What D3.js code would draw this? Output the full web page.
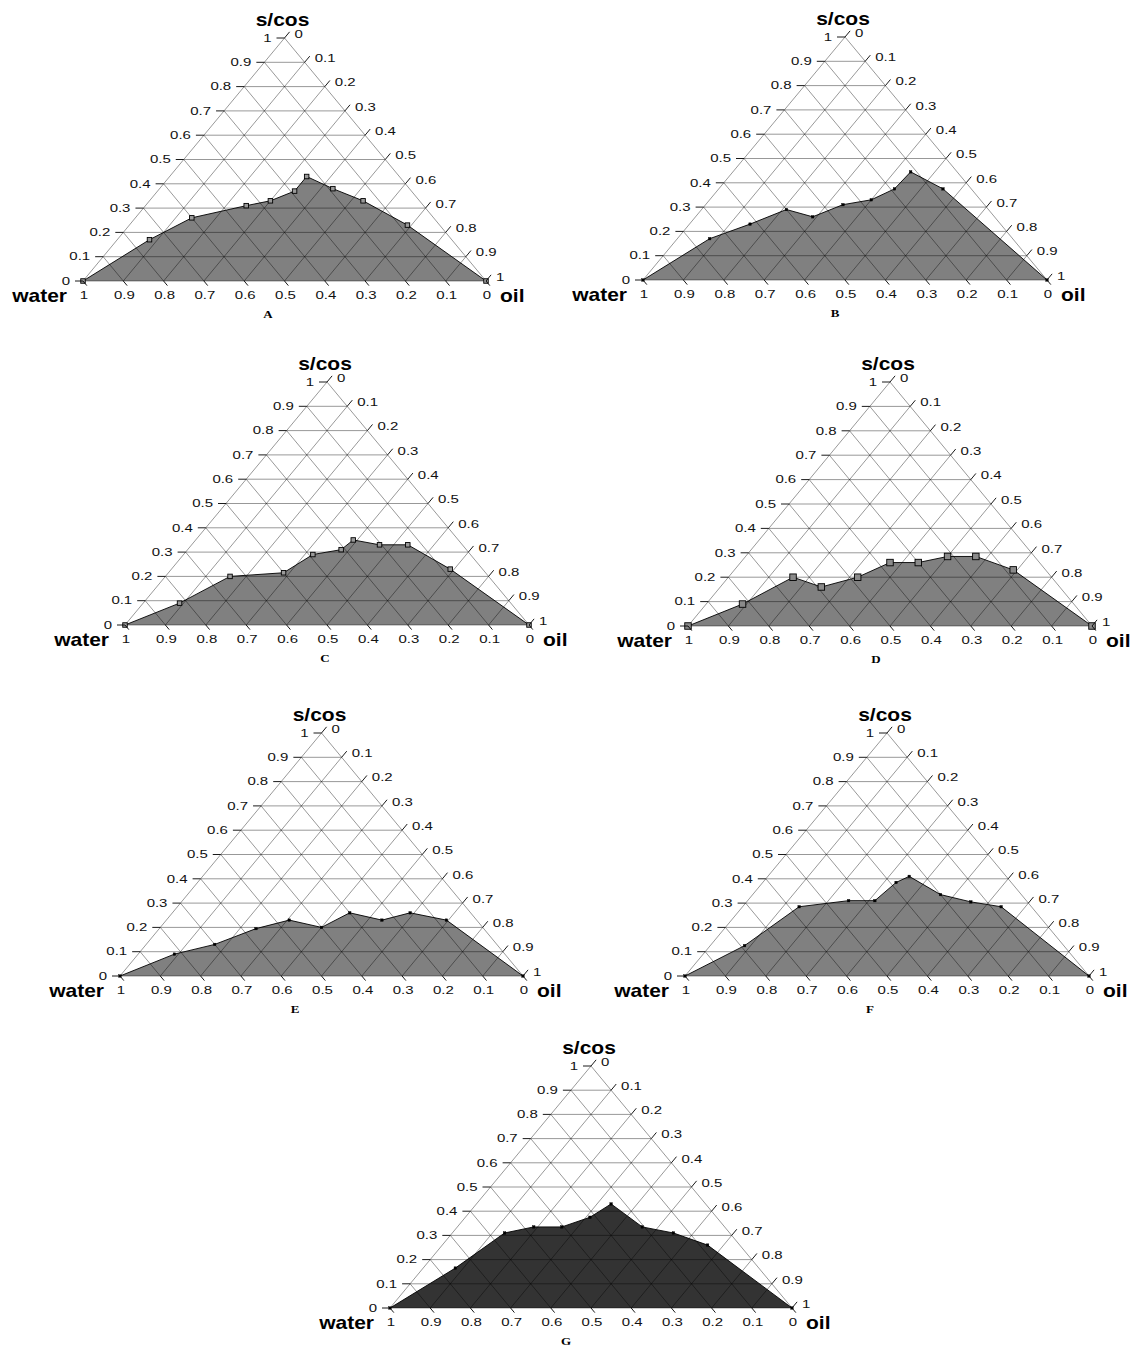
<!DOCTYPE html>
<html><head><meta charset="utf-8">
<script src="https://cdn.jsdelivr.net/npm/d3@7"></script>
<style>html,body{margin:0;padding:0;background:#fff}</style>
</head><body>
<svg id="chart" width="1132" height="1348"></svg>
<script>
// ---------- data: each point is [water, oil, s/cos] ----------
const tickValues = [0, 0.1, 0.2, 0.3, 0.4, 0.5, 0.6, 0.7, 0.8, 0.9, 1];
const tickLabels = ["0", "0.1", "0.2", "0.3", "0.4", "0.5", "0.6", "0.7", "0.8", "0.9", "1"];
const axisNames = { water: "water", oil: "oil", scos: "s/cos" };
const panelNames = ["A", "B", "C", "D", "E", "F", "G"];

const dataA = [[1,0,0],[0.75,0.08,0.17],[0.60,0.14,0.26],[0.44,0.25,0.31],[0.37,0.30,0.33],[0.29,0.34,0.37],[0.23,0.34,0.43],[0.19,0.43,0.38],[0.14,0.53,0.33],[0.08,0.69,0.23],[0,1,0]];
const dataB = [[1,0,0],[0.75,0.08,0.17],[0.62,0.15,0.23],[0.50,0.21,0.29],[0.45,0.29,0.26],[0.35,0.34,0.31],[0.27,0.40,0.33],[0.19,0.435,0.375],[0.115,0.44,0.445],[0.07,0.555,0.375],[0,1,0]];
const dataC = [[1,0,0],[0.82,0.09,0.09],[0.64,0.16,0.20],[0.50,0.285,0.215],[0.39,0.32,0.29],[0.31,0.38,0.31],[0.26,0.39,0.35],[0.205,0.465,0.33],[0.135,0.535,0.33],[0.08,0.69,0.23],[0,1,0]];
const dataD = [[1,0,0],[0.82,0.09,0.09],[0.64,0.16,0.20],[0.59,0.25,0.16],[0.48,0.32,0.20],[0.37,0.37,0.26],[0.30,0.44,0.26],[0.215,0.50,0.285],[0.145,0.57,0.285],[0.08,0.69,0.23],[0,1,0]];
const dataE = [[1,0,0],[0.82,0.09,0.09],[0.70,0.17,0.13],[0.565,0.24,0.195],[0.465,0.305,0.23],[0.40,0.40,0.20],[0.30,0.44,0.26],[0.235,0.535,0.23],[0.15,0.59,0.26],[0.075,0.695,0.23],[0,1,0]];
const dataF = [[1,0,0],[0.79,0.085,0.125],[0.575,0.14,0.285],[0.44,0.25,0.31],[0.375,0.315,0.31],[0.285,0.33,0.385],[0.24,0.35,0.41],[0.20,0.465,0.335],[0.14,0.555,0.305],[0.075,0.64,0.285],[0,1,0]];
const dataG = [[1,0,0],[0.755,0.08,0.165],[0.56,0.13,0.31],[0.475,0.19,0.335],[0.405,0.26,0.335],[0.315,0.31,0.375],[0.235,0.335,0.43],[0.205,0.46,0.335],[0.14,0.55,0.31],[0.08,0.66,0.26],[0,1,0]];

// ---------- layout (positions / styles) ----------
const layout = [
  { name: "A", data: dataA, left: 83,  right: 486,  bottom: 281,  top: 38,   letterX: 268, fill: "#808080", marker: 4.5, mfill: "#9a9a9a" },
  { name: "B", data: dataB, left: 643, right: 1047, bottom: 280,  top: 37,   letterX: 835, fill: "#808080", marker: 2.5, mfill: "#000" },
  { name: "C", data: dataC, left: 125, right: 529,  bottom: 625,  top: 382,  letterX: 325, fill: "#808080", marker: 4.5, mfill: "#9a9a9a" },
  { name: "D", data: dataD, left: 688, right: 1092, bottom: 626,  top: 382,  letterX: 876, fill: "#808080", marker: 6.5, mfill: "#8a8a8a" },
  { name: "E", data: dataE, left: 120, right: 523,  bottom: 976,  top: 733,  letterX: 295, fill: "#808080", marker: 2.5, mfill: "#000" },
  { name: "F", data: dataF, left: 685, right: 1089, bottom: 976,  top: 733,  letterX: 870, fill: "#808080", marker: 2.5, mfill: "#000" },
  { name: "G", data: dataG, left: 390, right: 792,  bottom: 1308, top: 1066, letterX: 566, fill: "#333333", marker: 2.5, mfill: "#000" }
];

const svg = d3.select("#chart");
const TICK_FONT = "'Liberation Sans', Arial, sans-serif";

function addText(g, x, y, str, o) {
  g.append("text")
    .attr("transform", `translate(${x},${y}) scale(1,${o.sy})`)
    .attr("text-anchor", o.anchor || "middle")
    .attr("dy", "0.35em")
    .attr("font-family", o.family || TICK_FONT)
    .attr("font-size", o.size)
    .attr("font-weight", o.weight || "normal")
    .attr("fill", o.color || "#111")
    .text(str);
}

layout.forEach(P => {
  const g = svg.append("g");
  const x = d3.scaleLinear().domain([0, 1]).range([P.left, P.right]);
  const y = d3.scaleLinear().domain([0, 1]).range([P.bottom, P.top]);
  const W = P.right - P.left, H = P.bottom - P.top;
  const proj = d => [x(d[1] + d[2] / 2), y(d[2])];

  // shaded region
  g.append("path")
    .attr("d", d3.line()(P.data.map(proj)) + "Z")
    .attr("fill", P.fill).attr("stroke", "none");

  // grid
  const grid = [];
  tickValues.slice(1, -1).forEach(k => {
    grid.push([[1 - k, 0, k], [0, 1 - k, k]]);       // constant s/cos
    grid.push([[1 - k, k, 0], [0, k, 1 - k]]);       // constant oil
    grid.push([[k, 1 - k, 0], [k, 0, 1 - k]]);       // constant water
  });
  g.append("g").selectAll("line").data(grid).join("line")
    .attr("x1", d => proj(d[0])[0]).attr("y1", d => proj(d[0])[1])
    .attr("x2", d => proj(d[1])[0]).attr("y2", d => proj(d[1])[1])
    .attr("stroke", "#000").attr("stroke-opacity", 0.45).attr("stroke-width", 0.9);

  // outline
  g.append("path")
    .attr("d", d3.line()([[1,0,0],[0,1,0],[0,0,1]].map(proj)) + "Z")
    .attr("fill", "none").attr("stroke", "#000").attr("stroke-opacity", 0.45).attr("stroke-width", 0.9);

  // boundary line
  g.append("path")
    .attr("d", d3.line()(P.data.map(proj)))
    .attr("fill", "none").attr("stroke", "#000").attr("stroke-width", 0.9);

  // markers
  const m = P.marker;
  g.append("g").selectAll("rect").data(P.data).join("rect")
    .attr("x", d => proj(d)[0] - m / 2).attr("y", d => proj(d)[1] - m / 2)
    .attr("width", m).attr("height", m)
    .attr("fill", P.mfill).attr("stroke", "#000").attr("stroke-width", m > 3 ? 0.9 : 0.4);

  // ticks
  const tl = 8;
  const lenR = Math.hypot(W / 2, H);
  const uR = [(W / 2) / lenR, -H / lenR];
  const uB = [(W / 2) / lenR, H / lenR];
  const ticks = g.append("g").attr("stroke", "#000").attr("stroke-width", 0.9);
  const tOpt = { size: 15, sy: 0.72 };
  tickValues.forEach((k, i) => {
    // left axis: s/cos
    let p = proj([1 - k, 0, k]);
    ticks.append("line").attr("x1", p[0]).attr("y1", p[1]).attr("x2", p[0] - tl).attr("y2", p[1]);
    addText(g, p[0] - 13, p[1], tickLabels[i], Object.assign({ anchor: "end" }, tOpt));
    // right axis: oil
    p = proj([0, k, 1 - k]);
    ticks.append("line").attr("x1", p[0]).attr("y1", p[1]).attr("x2", p[0] + tl * uR[0]).attr("y2", p[1] + tl * uR[1]);
    addText(g, p[0] + 10, p[1] - 4, tickLabels[i], Object.assign({ anchor: "start" }, tOpt));
    // bottom axis: water
    p = proj([k, 1 - k, 0]);
    ticks.append("line").attr("x1", p[0]).attr("y1", p[1]).attr("x2", p[0] + 6 * uB[0]).attr("y2", p[1] + 6 * uB[1]);
    addText(g, p[0] + 1, p[1] + 14, tickLabels[i], Object.assign({ anchor: "middle" }, tOpt));
  });

  // axis names
  const bOpt = { size: 21, sy: 0.87, weight: "bold", color: "#000" };
  addText(g, P.left - 16, P.bottom + 15, axisNames.water, Object.assign({ anchor: "end" }, bOpt));
  addText(g, P.right + 14, P.bottom + 15, axisNames.oil, Object.assign({ anchor: "start" }, bOpt));
  addText(g, (P.left + P.right) / 2 - 2, P.top - 18, axisNames.scos, Object.assign({ anchor: "middle" }, bOpt));

  // panel letter
  addText(g, P.letterX, P.bottom + 33, P.name, { size: 13, sy: 0.8, weight: "bold", family: "'Liberation Serif', 'Times New Roman', serif", color: "#000" });
});
</script>
</body></html>
